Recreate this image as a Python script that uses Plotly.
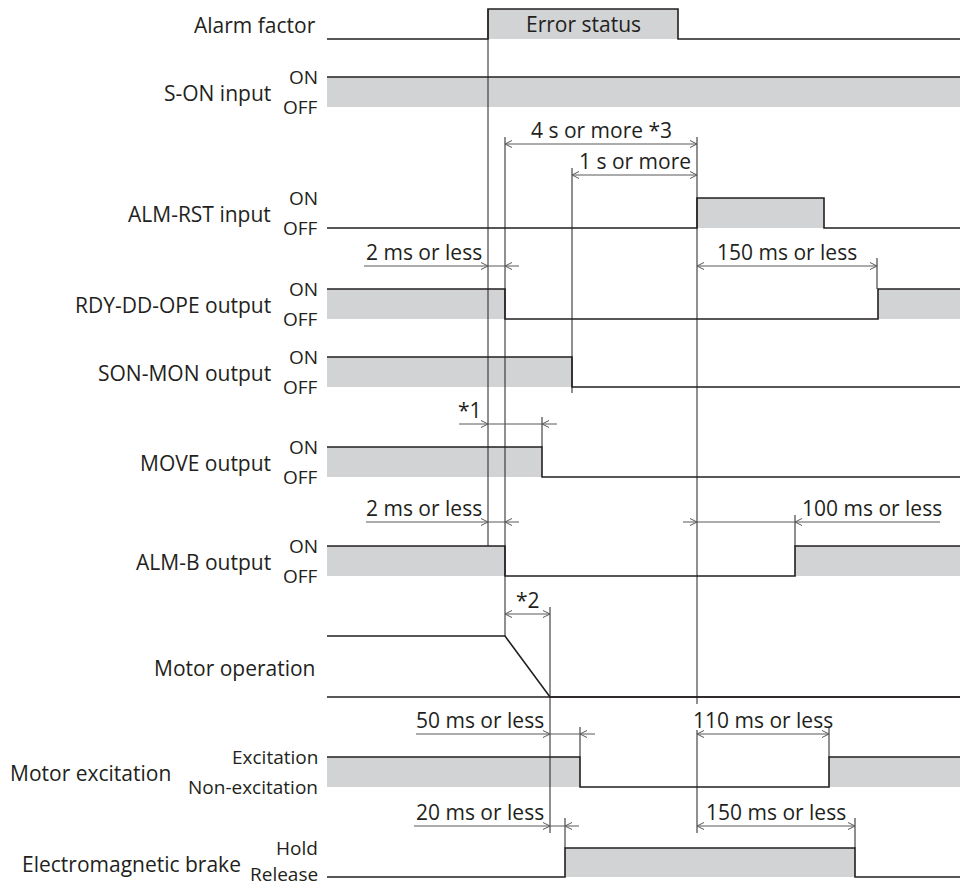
import plotly.graph_objects as go

# ---------------- data ----------------
signal_names = ["Alarm factor", "S-ON input", "ALM-RST input", "RDY-DD-OPE output",
                "SON-MON output", "MOVE output", "ALM-B output", "Motor operation",
                "Motor excitation", "Electromagnetic brake"]
high_labels = ["", "ON", "ON", "ON", "ON", "ON", "ON", "", "Excitation", "Hold"]
low_labels = ["", "OFF", "OFF", "OFF", "OFF", "OFF", "OFF", "", "Non-excitation", "Release"]

# level rows (y of high level, y of low level) in diagram units
row_high = [9, 77, 198, 289, 357, 447, 546, 636, 757, 848]
row_low = [39, 107, 228, 319, 387, 477, 576, 697, 787, 877]

t_start, t_end = 327, 960
# edge times and state per segment for each digital signal
alarm_edges, alarm_states = [488, 678], [0, 1, 0]
son_edges, son_states = [], [1]
almrst_edges, almrst_states = [697, 824], [0, 1, 0]
rdy_edges, rdy_states = [505, 878], [1, 0, 1]
sonmon_edges, sonmon_states = [572], [1, 0]
move_edges, move_states = [542], [1, 0]
almb_edges, almb_states = [505, 795], [1, 0, 1]
exc_edges, exc_states = [580, 829], [1, 0, 1]
brake_edges, brake_states = [565, 855], [0, 1, 0]
# motor speed profile (1 = running, 0 = stopped)
motor_t = [327, 505, 550, 960]
motor_v = [1, 1, 0, 0]

# timing dimensions
dim_text = ["4 s or more *3", "1 s or more", "2 ms or less", "150 ms or less", "*1",
            "2 ms or less", "100 ms or less", "*2", "50 ms or less", "110 ms or less",
            "20 ms or less", "150 ms or less"]
dim_from = [505, 572, 488, 697, 488, 488, 697, 505, 550, 697, 550, 697]
dim_to = [697, 697, 505, 877, 542, 505, 795, 550, 580, 829, 565, 855]
dim_y = [144, 175, 266, 266, 424, 522, 522, 614, 734, 734, 826, 826]
dim_style = ["in", "in", "out", "in", "out", "out", "out", "in", "out", "in", "out", "in"]
dim_ext_left = [0, 0, 364, 0, 459, 366, 683, 0, 416, 0, 414, 0]
dim_ext_right = [0, 0, 519, 0, 557, 519, 940, 0, 595, 0, 579, 0]
dim_text_pos = ["c", "c", "l", "c", "l", "l", "r", "c", "l", "c", "l", "c"]

# extension (guide) lines
guide_x = [488, 505, 572, 697, 697, 550, 877, 542, 795, 580, 829, 565, 855]
guide_top = [9, 137, 168, 137, 730, 607, 258, 417, 515, 727, 727, 818, 818]
guide_bottom = [546, 636, 393, 704, 833, 833, 289, 447, 546, 757, 757, 848, 848]

# ---------------- drawing ----------------
LINE = "#231f20"
ARROW = "#58595b"
FILL = "#d1d3d4"
FONT = "Open Sans"
NAME_SIZE = 21
LEVEL_SIZE = 19
fig = go.Figure()


def step_path(edges, states, yh, yl):
    xs, ys = [t_start], [yh if states[0] else yl]
    for e, s in zip(edges, states[1:]):
        xs += [e, e]
        ys += [ys[-1], yh if s else yl]
    xs.append(t_end)
    ys.append(ys[-1])
    return xs, ys


def add_signal(i, edges, states):
    yh, yl = row_high[i], row_low[i]
    bounds = [t_start] + edges + [t_end]
    for k, s in enumerate(states):
        if s:
            x0, x1 = bounds[k], bounds[k + 1]
            fig.add_trace(go.Scatter(x=[x0, x1, x1, x0, x0], y=[yh, yh, yl, yl, yh],
                                     mode="lines", fill="toself", fillcolor=FILL,
                                     line=dict(width=0), hoverinfo="skip"))
    xs, ys = step_path(edges, states, yh, yl)
    fig.add_trace(go.Scatter(x=xs, y=ys, mode="lines",
                             line=dict(color=LINE, width=1.6), hoverinfo="skip"))


add_signal(0, alarm_edges, alarm_states)
add_signal(1, son_edges, son_states)
add_signal(2, almrst_edges, almrst_states)
add_signal(3, rdy_edges, rdy_states)
add_signal(4, sonmon_edges, sonmon_states)
add_signal(5, move_edges, move_states)
add_signal(6, almb_edges, almb_states)
add_signal(8, exc_edges, exc_states)
add_signal(9, brake_edges, brake_states)

# motor operation
mh, ml = row_high[7], row_low[7]
fig.add_trace(go.Scatter(x=[t_start, t_end], y=[ml, ml], mode="lines",
                         line=dict(color=LINE, width=1.6), hoverinfo="skip"))
fig.add_trace(go.Scatter(x=motor_t, y=[ml - v * (ml - mh) for v in motor_v], mode="lines",
                         line=dict(color=LINE, width=1.6), hoverinfo="skip"))

# guides
for gx, gt, gb in zip(guide_x, guide_top, guide_bottom):
    fig.add_trace(go.Scatter(x=[gx, gx], y=[gt, gb], mode="lines",
                             line=dict(color=LINE, width=1), hoverinfo="skip"))


def chevron(tip, y, direction):
    L, H = 7, 3.5
    bx = tip - L if direction == "right" else tip + L
    return [bx, tip, bx, None], [y - H, y, y + H, None]


def dim_label(x, y, txt, anchor):
    fig.add_annotation(x=x, y=y - 14, text=txt, showarrow=False,
                       xanchor=anchor, yanchor="middle",
                       font=dict(family=FONT, size=NAME_SIZE, color=LINE))


ax, ay = [], []
for txt, x0, x1, y, st, el, er, tp in zip(dim_text, dim_from, dim_to, dim_y, dim_style,
                                           dim_ext_left, dim_ext_right, dim_text_pos):
    if st == "in":
        ax += [x0, x1, None]
        ay += [y, y, None]
        cx, cy = chevron(x0, y, "left")
        ax += cx; ay += cy
        cx, cy = chevron(x1, y, "right")
        ax += cx; ay += cy
        dim_label((x0 + x1) / 2, y, txt, "center")
    else:
        ax += [el, er, None]
        ay += [y, y, None]
        cx, cy = chevron(x0, y, "right")
        ax += cx; ay += cy
        cx, cy = chevron(x1, y, "left")
        ax += cx; ay += cy
        if tp == "l":
            dim_label(x0 - 4, y, txt, "right")
        else:
            dim_label(x1 + 5, y, txt, "left")
fig.add_trace(go.Scatter(x=ax, y=ay, mode="lines", line=dict(color=ARROW, width=1),
                         hoverinfo="skip", connectgaps=False))

# error status text
fig.add_annotation(x=(alarm_edges[0] + alarm_edges[1]) / 2, y=(row_high[0] + row_low[0]) / 2,
                   text="Error status", showarrow=False, xanchor="center", yanchor="middle",
                   font=dict(family=FONT, size=NAME_SIZE, color=LINE))

# labels
for i, name in enumerate(signal_names):
    mid = (row_high[i] + row_low[i]) / 2
    if high_labels[i]:
        fig.add_annotation(x=320, y=row_high[i], text=high_labels[i], showarrow=False,
                           xanchor="right", yanchor="middle",
                           font=dict(family=FONT, size=LEVEL_SIZE, color=LINE))
        fig.add_annotation(x=320, y=min(row_low[i], 874), text=low_labels[i], showarrow=False,
                           xanchor="right", yanchor="middle",
                           font=dict(family=FONT, size=LEVEL_SIZE, color=LINE))
        if i == 8:
            nx = 173
        elif i == 9:
            nx = 243
        else:
            nx = 273
    else:
        nx = 318
    fig.add_annotation(x=nx, y=mid + 1, text=name, showarrow=False,
                       xanchor="right", yanchor="middle",
                       font=dict(family=FONT, size=NAME_SIZE, color=LINE))

fig.update_layout(width=960, height=888, margin=dict(l=0, r=0, t=0, b=0),
                  paper_bgcolor="white", plot_bgcolor="white", showlegend=False,
                  xaxis=dict(range=[0, 960], visible=False, fixedrange=True),
                  yaxis=dict(range=[888, 0], visible=False, fixedrange=True))
fig.write_html("out.html", config={"displayModeBar": False},
               post_script="document.body.style.margin='0';")
